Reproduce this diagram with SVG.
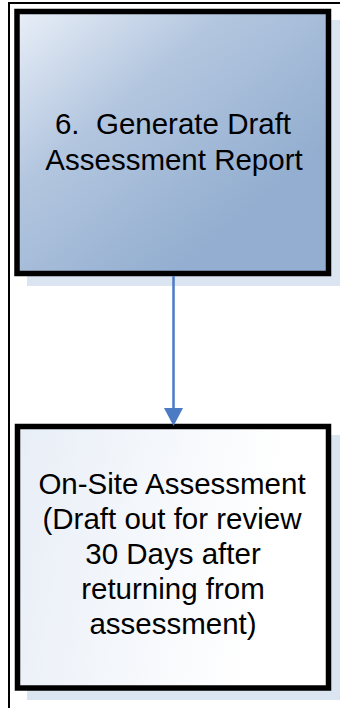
<svg xmlns="http://www.w3.org/2000/svg" width="340" height="708" viewBox="0 0 340 708">
  <defs>
    <linearGradient id="g1" x1="0" y1="0" x2="0.75" y2="0.75">
      <stop offset="0" stop-color="#e9eff8"/>
      <stop offset="0.45" stop-color="#b3c6df"/>
      <stop offset="1" stop-color="#93aed0"/>
    </linearGradient>
    <linearGradient id="g2" x1="0" y1="0" x2="1" y2="0.15">
      <stop offset="0" stop-color="#e8eef7"/>
      <stop offset="0.85" stop-color="#ffffff"/>
    </linearGradient>
    <style>
      .box { stroke: #000; stroke-width: 5.5; }
      .shadow { fill: #dbe4f1; }
      .label { font-family: "Liberation Sans", Arial, sans-serif; font-size: 29.5px; fill: #000; text-anchor: middle; white-space: pre; }
      .frame { stroke: #000; stroke-width: 2; fill: none; }
      .conn { stroke: #4a7bc4; stroke-width: 2.5; fill: none; }
      .head { fill: #4a7bc4; }
    </style>
  </defs>
  <rect width="340" height="708" fill="#ffffff"/>
  <g id="frame">
    <path class="frame" d="M9,708 L9,3 L340,3"/>
  </g>
  <g id="node-generate-draft">
    <rect class="shadow" x="27" y="20" width="313" height="266"/>
    <rect class="box" x="17" y="11.5" width="311.5" height="262" fill="url(#g1)"/>
    <text class="label" xml:space="preserve" x="173" y="134">6.  Generate Draft</text>
    <text class="label" x="174" y="170">Assessment Report</text>
  </g>
  <g id="node-onsite">
    <rect class="shadow" x="27" y="435" width="313" height="265"/>
    <rect class="box" x="17.5" y="426.5" width="311" height="261.5" fill="url(#g2)"/>
    <text class="label" x="172" y="494">On-Site Assessment</text>
    <text class="label" x="172" y="529">(Draft out for review</text>
    <text class="label" x="173" y="564">30 Days after</text>
    <text class="label" x="173" y="599">returning from</text>
    <text class="label" x="173" y="634">assessment)</text>
  </g>
  <g id="connectors">
    <line class="conn" x1="173.5" y1="276" x2="173.5" y2="410"/>
    <path class="head" d="M164,408 L183,408 L173.5,426 Z"/>
  </g>
</svg>
